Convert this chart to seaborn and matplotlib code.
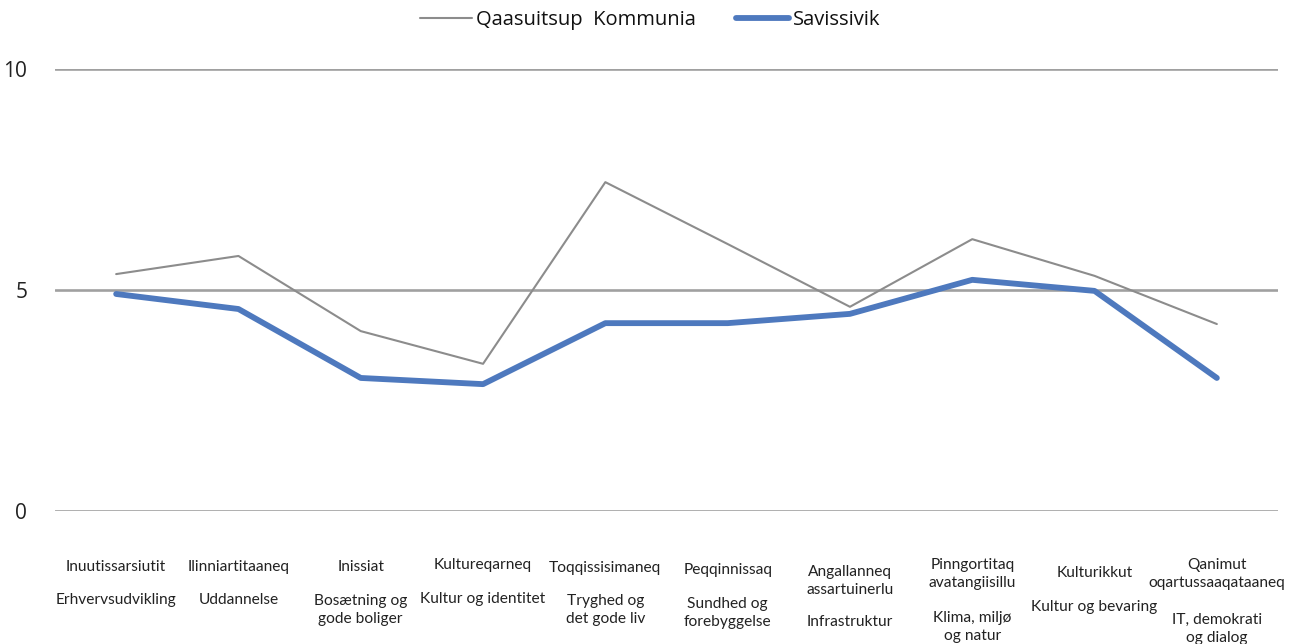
import matplotlib
matplotlib.use("Agg")
import matplotlib.pyplot as plt
import matplotlib.transforms as mtransforms
import seaborn as sns
import pandas as pd
import numpy as np

categories_kl = ["Inuutissarsiutit", "Ilinniartitaaneq", "Inissiat", "Kultureqarneq",
                 "Toqqissisimaneq", "Peqqinnissaq", "Angallanneq\nassartuinerlu",
                 "Pinngortitaq\navatangiisillu", "Kulturikkut", "Qanimut\noqartussaaqataaneq"]
categories_da = ["Erhvervsudvikling", "Uddannelse", "Bosætning og\ngode boliger",
                 "Kultur og identitet", "Tryghed og\ndet gode liv", "Sundhed og\nforebyggelse",
                 "Infrastruktur", "Klima, miljø\nog natur", "Kultur og bevaring",
                 "IT, demokrati\nog dialog"]
qaasuitsup = [5.36, 5.77, 4.07, 3.33, 7.44, 6.04, 4.62, 6.15, 5.32, 4.23]
savissivik = [4.91, 4.57, 3.01, 2.87, 4.25, 4.25, 4.46, 5.23, 4.98, 3.01]
series_names = ["Qaasuitsup  Kommunia", "Savissivik"]
yticks = [0, 5, 10]

# label centre heights (pixels from top) for each category
kl_y = [567, 567, 567, 565, 568, 570, 581, 574, 573, 574]
da_y = [600, 600, 610, 599, 610, 613, 622, 627, 607, 629]

sns.set_theme(style="white")
plt.rcParams['font.family'] = ['Open Sans', 'DejaVu Sans']

W, H = 1298, 644
fig = plt.figure(figsize=(W / 100, H / 100), dpi=100)
ax = fig.add_axes([55 / W, 1 - 511 / H, (1278 - 55) / W, (511 - 69) / H])

n = len(categories_kl)
df = pd.DataFrame({
    "x": list(range(n)) * 2,
    "value": qaasuitsup + savissivik,
    "series": [series_names[0]] * n + [series_names[1]] * n,
})

sns.lineplot(data=df, x="x", y="value", hue="series", size="series",
             sizes={series_names[0]: 1.5, series_names[1]: 4.2},
             palette={series_names[0]: "#8C8C8C", series_names[1]: "#4E79BE"},
             ax=ax, legend=False)

for yv in yticks:
    ax.axhline(yv, color="#A0A0A0", lw=1.9, zorder=0)

ax.set_xlim(-0.5, n - 0.5)
ax.set_ylim(0, 10)
ax.set_yticks(yticks)
ax.set_yticklabels([str(v) for v in yticks], fontsize=15, color="#222222")
ax.tick_params(axis="y", length=0, pad=20)
ax.set_xticks([])
ax.set_xlabel("")
ax.set_ylabel("")
for s in ax.spines.values():
    s.set_visible(False)

trans = mtransforms.blended_transform_factory(ax.transData, fig.transFigure)
for i in range(n):
    ax.text(i, 1 - kl_y[i] / H, categories_kl[i], transform=trans, ha="center", va="center",
            fontsize=11.2, family=["Lato", "DejaVu Sans"], color="#222222", linespacing=1.4)
    ax.text(i, 1 - da_y[i] / H, categories_da[i], transform=trans, ha="center", va="center",
            fontsize=11.2, family=["Lato", "DejaVu Sans"], color="#222222", linespacing=1.4)

from matplotlib.lines import Line2D
handles = [Line2D([], [], color="#8C8C8C", lw=1.5), Line2D([], [], color="#4E79BE", lw=4.2)]
fig.legend(handles, series_names, loc="center", bbox_to_anchor=(650 / W, 1 - 20 / H), ncol=2,
           frameon=False, fontsize=14.5, handlelength=2.6, handletextpad=0.2, columnspacing=2.0,
           labelcolor="#111111")

fig.savefig("out.png", dpi=100)
